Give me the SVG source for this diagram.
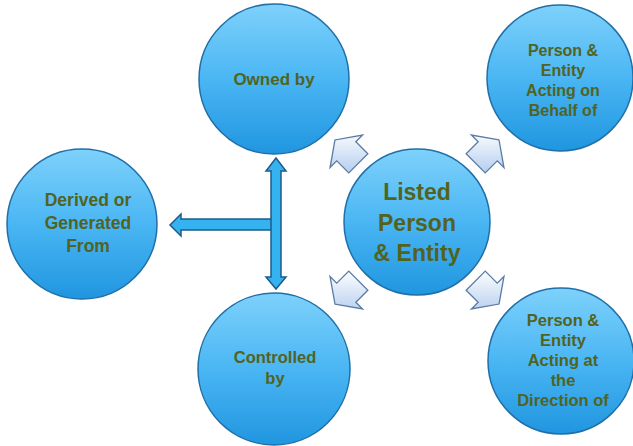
<svg xmlns="http://www.w3.org/2000/svg" width="633" height="446" viewBox="0 0 633 446">
<defs>
<linearGradient id="cg" x1="0" y1="0" x2="0" y2="1">
<stop offset="0" stop-color="#7ed1fb"/>
<stop offset="0.5" stop-color="#4ab6f3"/>
<stop offset="1" stop-color="#2096e0"/>
</linearGradient>
<linearGradient id="gUL" gradientUnits="userSpaceOnUse" x1="0" y1="-22" x2="0" y2="22" gradientTransform="rotate(135)">
<stop offset="0" stop-color="#ffffff"/><stop offset="1" stop-color="#b3cdee"/></linearGradient>
<linearGradient id="gUR" gradientUnits="userSpaceOnUse" x1="0" y1="-22" x2="0" y2="22" gradientTransform="rotate(45)">
<stop offset="0" stop-color="#ffffff"/><stop offset="1" stop-color="#b3cdee"/></linearGradient>
<linearGradient id="gLL" gradientUnits="userSpaceOnUse" x1="0" y1="-22" x2="0" y2="22" gradientTransform="rotate(-135)">
<stop offset="0" stop-color="#ffffff"/><stop offset="1" stop-color="#b3cdee"/></linearGradient>
<linearGradient id="gLR" gradientUnits="userSpaceOnUse" x1="0" y1="-22" x2="0" y2="22" gradientTransform="rotate(-45)">
<stop offset="0" stop-color="#ffffff"/><stop offset="1" stop-color="#b3cdee"/></linearGradient>
<polygon id="sa" points="17,0 1,-23 1,-13.5 -16,-13.5 -16,13.5 1,13.5 1,23"/>
</defs>
<style>
.c{fill:url(#cg);stroke:#1f6fa8;stroke-width:1.5}
.t{font-family:"Liberation Sans",Arial,sans-serif;font-weight:bold;fill:#52631f;text-anchor:middle}
.ba{fill:#35b2f0;stroke:#1c5b8a;stroke-width:1.5;stroke-linejoin:miter}
.sa{stroke:#5a7ba3;stroke-width:1.3;stroke-linejoin:miter}
</style>
<rect width="633" height="446" fill="#ffffff"/>
<g id="connectors">
<polygon class="ba" points="170,225 181,214 181,219 272,219 272,230 181,230 181,236"/>
<polygon class="ba" points="276,158 286,171 281,171 281,277 286,277 276,289 266,277 271,277 271,171 266,171"/>
<use href="#sa" class="sa" fill="url(#gUL)" transform="translate(347,152) rotate(-135)"/>
<use href="#sa" class="sa" fill="url(#gUR)" transform="translate(487,152) rotate(-45)"/>
<use href="#sa" class="sa" fill="url(#gLL)" transform="translate(347,292) rotate(135)"/>
<use href="#sa" class="sa" fill="url(#gLR)" transform="translate(487,292) rotate(45)"/>
</g>
<g id="owned">
<circle class="c" cx="274" cy="79" r="75"/>
<text class="t" x="274" y="85" font-size="17">Owned by</text>
</g>
<g id="controlled">
<circle class="c" cx="274" cy="369" r="76"/>
<text class="t" x="275" y="363" font-size="16.5">Controlled</text>
<text class="t" x="275" y="384" font-size="16.5">by</text>
</g>
<g id="derived">
<circle class="c" cx="82" cy="224" r="75"/>
<text class="t" x="88" y="206" font-size="17.5">Derived or</text>
<text class="t" x="88" y="229" font-size="17.5">Generated</text>
<text class="t" x="88" y="252" font-size="17.5">From</text>
</g>
<g id="listed">
<circle class="c" cx="417" cy="222" r="73"/>
<text class="t" x="417" y="200" font-size="23">Listed</text>
<text class="t" x="417" y="231" font-size="23">Person</text>
<text class="t" x="417" y="261" font-size="23">&amp; Entity</text>
</g>
<g id="behalf">
<circle class="c" cx="560" cy="78" r="73"/>
<text class="t" x="563" y="55.5" font-size="16">Person &amp;</text>
<text class="t" x="563" y="75.5" font-size="16">Entity</text>
<text class="t" x="563" y="95.5" font-size="16">Acting on</text>
<text class="t" x="563" y="115.5" font-size="16">Behalf of</text>
</g>
<g id="direction">
<circle class="c" cx="561" cy="361" r="73"/>
<text class="t" x="563" y="326" font-size="16.5">Person &amp;</text>
<text class="t" x="563" y="346" font-size="16.5">Entity</text>
<text class="t" x="563" y="366" font-size="16.5">Acting at</text>
<text class="t" x="563" y="386" font-size="16.5">the</text>
<text class="t" x="563" y="406" font-size="16.5">Direction of</text>
</g>
</svg>
